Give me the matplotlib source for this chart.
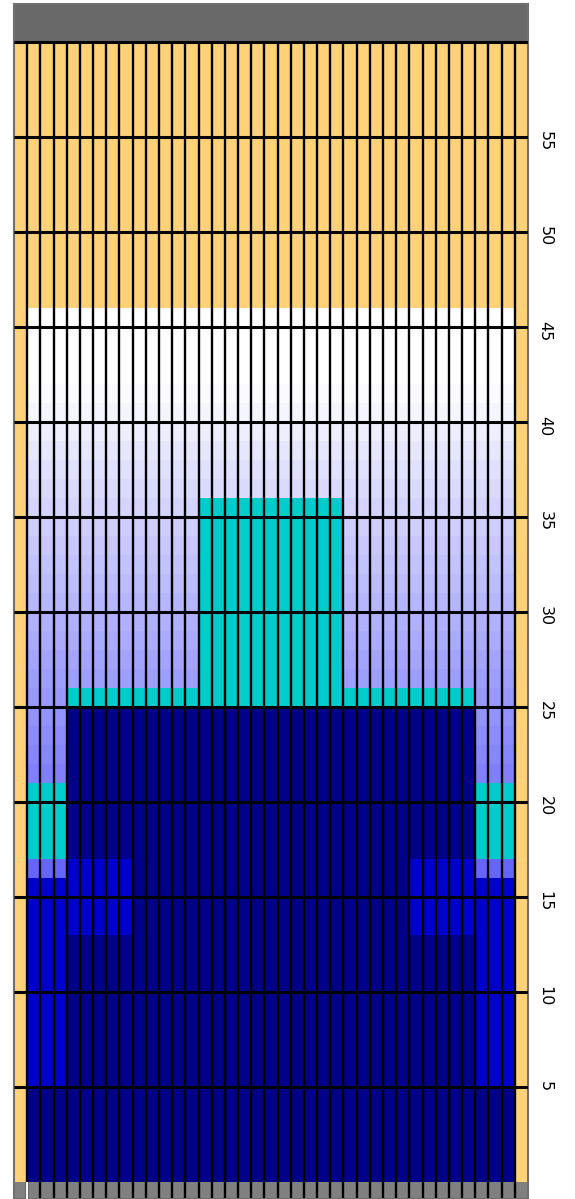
import numpy as np
import matplotlib
matplotlib.use("Agg")
import matplotlib.pyplot as plt
from matplotlib.colors import to_rgb

n_cols = 39
n_rows = 60
y_ticks = [5, 10, 15, 20, 25, 30, 35, 40, 45, 50, 55]

# column groups
edge_cols = [0, 38]
outer_cols = [1, 2, 3, 35, 36, 37]
patch_cols = [4, 5, 6, 7, 8, 30, 31, 32, 33, 34]
center_cols = list(range(14, 25))

# layer tops (in rows)
sky_base = 46
navy_top = 25
cap_top_mid = 26
cap_top_center = 36
outer_navy_top = 5
outer_blue_top = 16
outer_mid_top = 17
outer_cyan_top = 21
patch_bottom, patch_top = 13, 17

# lavender shade (R=G level, B=255) for rows 21..45
lav_rows = list(range(21, 46))
lav_level = [128, 134, 140, 147, 152, 158, 164, 170, 176, 182, 188, 194, 200,
             206, 212, 218, 224, 230, 238, 245, 250, 255, 255, 255, 255]

colors = {
    'Y': '#FFD27A',
    'N': '#000088',
    'B': '#0000CC',
    'P': '#6666FF',
    'C': '#00CCCC',
    'G': '#808080',
}


def cell_code(c, r):
    if c in edge_cols or r >= sky_base:
        return 'Y'
    if c in outer_cols:
        if r < outer_navy_top:
            return 'N'
        if r < outer_blue_top:
            return 'B'
        if r < outer_mid_top:
            return 'P'
        if r < outer_cyan_top:
            return 'C'
        return 'L'
    if c in center_cols:
        if r < navy_top:
            return 'N'
        if r < cap_top_center:
            return 'C'
        return 'L'
    if r < navy_top:
        if c in patch_cols and patch_bottom <= r < patch_top:
            return 'B'
        return 'N'
    if r < cap_top_mid:
        return 'C'
    return 'L'


# image rows: -1 (grey strip) .. 59
img = np.zeros((n_rows + 1, n_cols, 3))
img[0, :, :] = to_rgb(colors['G'])
for r in range(n_rows):
    for c in range(n_cols):
        code = cell_code(c, r)
        if code == 'L':
            v = lav_level[lav_rows.index(r)] / 255
            img[r + 1, c] = (v, v, 1.0)
        else:
            img[r + 1, c] = to_rgb(colors[code])

fig = plt.figure(figsize=(5.75, 11.99), dpi=100)
ax = fig.add_axes([14 / 575, 0, 514 / 575, 1195 / 1199])
ax.imshow(img, origin='lower', extent=(0, n_cols, -1, n_rows),
          aspect='auto', interpolation='nearest', zorder=1)
ax.axhspan(n_rows, 62, color='#696969', zorder=1)

ax.vlines(range(1, n_cols), -1, n_rows, color='black', lw=1.7, zorder=2)
ax.hlines(y_ticks + [n_rows], 0, n_cols, color='black', lw=2.2, zorder=3)
ax.vlines(1, -1, 0, color='white', lw=1.4, zorder=4)

ax.set_xlim(0, n_cols)
ax.set_ylim(-17 / 19, 62)
ax.set_xticks([])
ax.set_yticks(y_ticks)
ax.set_yticklabels([str(t) for t in y_ticks], rotation=270, fontsize=11.5)
ax.tick_params(axis='y', left=False, labelleft=False, right=True,
               labelright=True, length=0, pad=7)
for s in ax.spines.values():
    s.set_color('#707070')
    s.set_linewidth(1.5)

fig.savefig('out.png', dpi=100)
